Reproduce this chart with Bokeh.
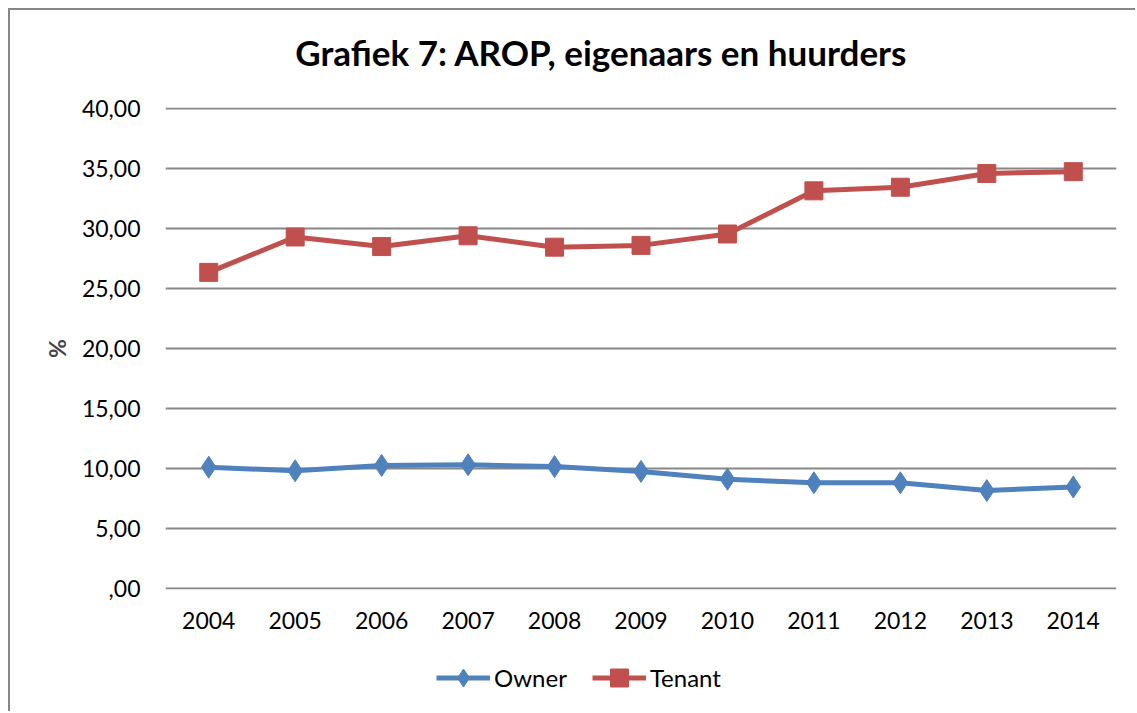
from bokeh.plotting import figure
from bokeh.layouts import column
from bokeh.models import Range1d, FixedTicker, Label, Legend, LegendItem
from bokeh.embed import file_html
from bokeh.resources import INLINE

years = ["2004", "2005", "2006", "2007", "2008", "2009", "2010", "2011", "2012", "2013", "2014"]
owner = [10.1, 9.8, 10.25, 10.3, 10.15, 9.75, 9.1, 8.8, 8.8, 8.15, 8.45]
tenant = [26.35, 29.3, 28.5, 29.4, 28.45, 28.6, 29.55, 33.15, 33.45, 34.6, 34.75]
y_ticks = [0, 5, 10, 15, 20, 25, 30, 35, 40]
y_tick_labels = [",00", "5,00", "10,00", "15,00", "20,00", "25,00", "30,00", "35,00", "40,00"]
title_text = "Grafiek 7: AROP, eigenaars en huurders"

FONT = "Lato"
GRID = "#878787"
BLUE = "#4F81BD"
RED = "#C0504D"

W = 1125
TH, MH, LH = 77, 562, 62

def bare(height):
    f = figure(width=W, height=height, x_range=years, y_range=Range1d(100, 101),
               output_backend="svg", toolbar_location=None,
               x_axis_location=None, y_axis_location=None,
               min_border_left=155, min_border_right=19, min_border_top=0, min_border_bottom=0)
    f.grid.visible = False
    f.outline_line_color = None
    return f

# title strip
tfig = bare(TH)
tfig.add_layout(Label(x=436, y=36, x_units="screen", y_units="screen", text=title_text,
                      text_font=FONT, text_font_style="bold", text_font_size="35px",
                      text_align="center", text_baseline="middle", text_color="#000000"))

# main chart
p = figure(width=W, height=MH, x_range=years, y_range=Range1d(-0.1, 40.1),
           output_backend="svg", toolbar_location=None,
           min_border_left=155, min_border_right=19, min_border_top=97 - TH,
           min_border_bottom=MH - (97 - TH) - 482)
p.x_range.range_padding = 0
p.outline_line_color = None
p.xgrid.grid_line_color = None
p.ygrid.grid_line_color = GRID
p.ygrid.grid_line_width = 2
p.yaxis.ticker = FixedTicker(ticks=y_ticks)
p.yaxis.major_label_overrides = {t: l for t, l in zip(y_ticks, y_tick_labels)}

for ax in (p.xaxis[0], p.yaxis[0]):
    ax.axis_line_color = None
    ax.major_tick_line_color = None
    ax.minor_tick_line_color = None
    ax.major_tick_out = 0
    ax.major_tick_in = 0
    ax.major_label_text_font = FONT
    ax.major_label_text_font_size = "23px"
    ax.major_label_text_color = "#000000"

p.xaxis.major_label_standoff = 22
p.yaxis.major_label_standoff = 25
p.yaxis.axis_label = "%"
p.yaxis.axis_label_text_font = FONT
p.yaxis.axis_label_text_font_style = "bold"
p.yaxis.axis_label_text_font_size = "23px"
p.yaxis.axis_label_standoff = 8

p.line(years, owner, line_color=BLUE, line_width=5)
p.scatter(years, owner, marker="diamond", size=22, fill_color=BLUE, line_color=BLUE)
p.line(years, tenant, line_color=RED, line_width=5)
p.scatter(years, tenant, marker="square", size=18, fill_color=RED, line_color=RED)

# legend strip (same series, drawn only as legend samples)
lfig = bare(LH)
lo = lfig.line(years, owner, line_color=BLUE, line_width=5)
so = lfig.scatter(years, owner, marker="diamond", size=22, fill_color=BLUE, line_color=BLUE)
lt = lfig.line(years, tenant, line_color=RED, line_width=5)
st = lfig.scatter(years, tenant, marker="square", size=18, fill_color=RED, line_color=RED)
legend = Legend(items=[LegendItem(label="Owner", renderers=[lo, so]),
                       LegendItem(label="Tenant", renderers=[lt, st])],
                orientation="horizontal", location=(271, 11),
                glyph_width=54, glyph_height=45, label_standoff=4, spacing=25,
                padding=0, margin=0, border_line_color=None, background_fill_alpha=0,
                label_text_font=FONT, label_text_font_size="24px", label_text_color="#000000")
lfig.add_layout(legend, "center")

layout = column(tfig, p, lfig, spacing=0)
layout.styles = {"margin-left": "8px", "margin-top": "8px",
                 "border-left": "2px solid #878787", "border-top": "2px solid #878787"}

open("out.html", "w").write(file_html(layout, INLINE))
